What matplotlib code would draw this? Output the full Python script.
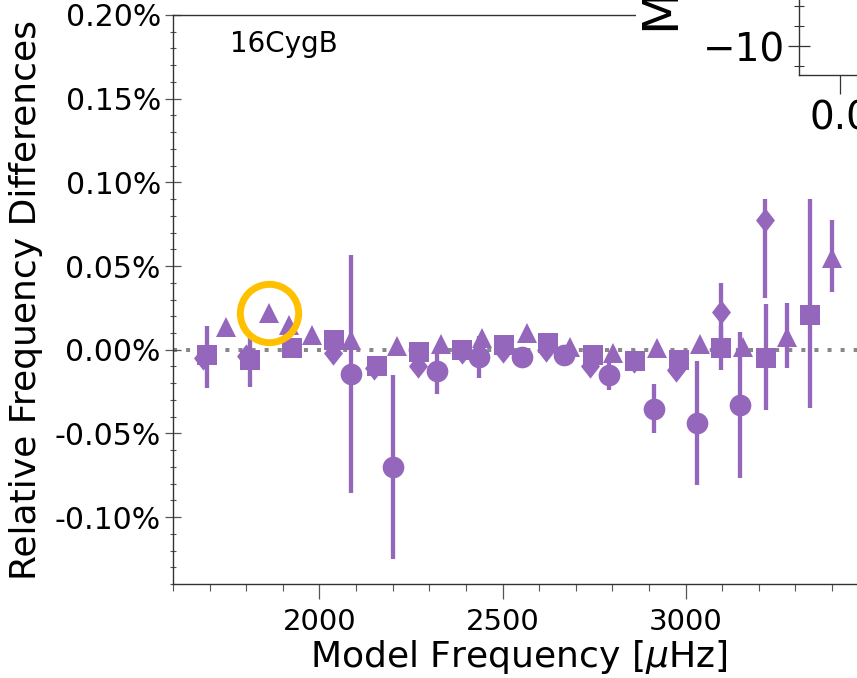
import matplotlib
matplotlib.use("Agg")
import matplotlib.pyplot as plt
from matplotlib.ticker import MultipleLocator, FuncFormatter
from matplotlib.patches import Rectangle

# ---------------- data (relative differences in %) ----------------
circ_x = [2085, 2202, 2320, 2437, 2552, 2669, 2792, 2913, 3030, 3148]
circ_y = [-0.0144, -0.070, -0.0126, -0.0042, -0.0042, -0.003, -0.015, -0.0353, -0.0437, -0.033]
circ_lo = [0.071, 0.055, 0.014, 0.0126, 0.004, 0.004, 0.009, 0.0147, 0.037, 0.0434]
circ_hi = [0.071, 0.055, 0.014, 0.0126, 0.004, 0.004, 0.009, 0.0147, 0.037, 0.0434]

tri_x = [1746, 1863, 1918, 1981, 2087, 2213, 2333, 2445, 2566, 2683, 2801, 2921, 3038, 3156, 3276, 3399]
tri_y = [0.0138, 0.0222, 0.015, 0.009, 0.006, 0.0024, 0.0036, 0.0072, 0.0102, 0.0018,
         -0.0018, 0.0012, 0.0036, 0.0018, 0.0078, 0.0545]
tri_lo = [0.003] * 14 + [0.019, 0.020]
tri_hi = [0.003] * 14 + [0.020, 0.023]

sq_x = [1694, 1811, 1926, 2041, 2156, 2273, 2388, 2505, 2623, 2746, 2861, 2981, 3098, 3219, 3339]
sq_y = [-0.003, -0.006, 0.0012, 0.006, -0.0096, -0.0012, 0.0, 0.003, 0.0042, -0.003,
        -0.0066, -0.006, 0.001, -0.0048, 0.021]
sq_lo = [0.020, 0.016, 0.003, 0.003, 0.003, 0.003, 0.003, 0.003, 0.003, 0.003, 0.003, 0.003, 0.013, 0.031, 0.056]
sq_hi = [0.017, 0.014, 0.003, 0.003, 0.003, 0.003, 0.003, 0.003, 0.003, 0.003, 0.003, 0.003, 0.013, 0.032, 0.069]

dia_x = [1683, 1800, 2036, 2150, 2268, 2388, 2500, 2620, 2738, 2858, 2975, 3098, 3216]
dia_y = [-0.0048, -0.0036, -0.0018, -0.0108, -0.0096, -0.0012, -0.0006, 0.0, -0.0096,
         -0.0066, -0.012, 0.0228, 0.0778]
dia_lo = [0.003] * 11 + [0.017, 0.047]
dia_hi = [0.003] * 11 + [0.017, 0.012]

star_label = "16CygB"
highlight_index = 1  # highlighted triangle

# ---------------- figure ----------------
W, H = 857, 678
fig = plt.figure(figsize=(W / 100, H / 100), dpi=100)
purple = "#9467bd"

ax = fig.add_axes([173 / W, 1 - 584 / H, (865 - 173) / W, (584 - 15) / H], zorder=0)
ax.set_xlim(1600, 3490)
ax.set_ylim(-0.14, 0.20)

ax.axhline(0, color="#888888", lw=2.9, ls=(0, (1, 2.25)), zorder=1)

diamond = [(0, 1), (0.78, 0), (0, -1), (-0.78, 0), (0, 1)]

ekw = dict(ls="none", color=purple, ecolor=purple, elinewidth=3.1, capsize=0, mec=purple, mew=0)
ax.errorbar(dia_x, dia_y, yerr=[dia_lo, dia_hi], marker=diamond, ms=17.5, zorder=2, **ekw)
ax.errorbar(circ_x, circ_y, yerr=[circ_lo, circ_hi], fmt="o", ms=15.6, zorder=3, **ekw)
ax.errorbar(tri_x, tri_y, yerr=[tri_lo, tri_hi], fmt="^", ms=15, zorder=4, **ekw)
ax.errorbar(sq_x, sq_y, yerr=[sq_lo, sq_hi], fmt="s", ms=15, zorder=5, **ekw)

ax.plot(tri_x[highlight_index], tri_y[highlight_index], "o", mfc="none", mec="#FFC000",
        ms=42, mew=5, zorder=6)

ax.text(0.082, 0.935, star_label, transform=ax.transAxes, fontsize=20, ha="left", va="baseline")

ax.xaxis.set_major_locator(MultipleLocator(500))
ax.xaxis.set_minor_locator(MultipleLocator(100))
ax.yaxis.set_major_locator(MultipleLocator(0.05))
ax.yaxis.set_minor_locator(MultipleLocator(0.01))


def pct(v, _):
    if abs(v) < 1e-9:
        v = 0.0
    return f"{v:.2f}%"


ax.yaxis.set_major_formatter(FuncFormatter(pct))
ax.tick_params(axis="y", which="major", direction="inout", length=11.5, width=0.9,
               color="#555555", labelsize=21.5, pad=3)
ax.tick_params(axis="y", which="minor", direction="inout", length=4.5, width=0.8, color="#555555")
ax.tick_params(axis="x", which="major", direction="out", length=11, width=0.9,
               color="#555555", labelsize=21, pad=6)
ax.tick_params(axis="x", which="minor", direction="out", length=5, width=0.8, color="#555555")
for s in ax.spines.values():
    s.set_color("#333333")
    s.set_linewidth(1.0)

ax.set_xlabel(r"Model Frequency [$\mu$Hz]", fontsize=26, labelpad=2)
ax.set_ylabel("Relative Frequency Differences", fontsize=26, labelpad=8)

# white cover behind the partly visible inset
fig.add_artist(Rectangle((636 / W, 1 - 140 / H), 1, 1, transform=fig.transFigure,
                         facecolor="white", edgecolor="none", zorder=0.5))

# partially visible inset
ins = fig.add_axes([799 / W, 1 - 75 / H, 0.3, 0.3], zorder=1)
ins.set_xlim(-0.08, 0.42)
ins.set_ylim(-11.45, -1.28)
ins.xaxis.set_major_locator(MultipleLocator(0.5))
ins.yaxis.set_major_locator(MultipleLocator(5))
ins.yaxis.set_minor_locator(MultipleLocator(1))
ins.tick_params(axis="y", which="major", direction="inout", length=16, width=0.9,
                color="#333333", labelsize=28, pad=2)
ins.tick_params(axis="y", which="minor", direction="inout", length=7, width=0.8, color="#333333")
ins.tick_params(axis="x", which="major", direction="out", length=14, width=0.9,
                color="#333333", labelsize=28, pad=4)
for s in ins.spines.values():
    s.set_color("#333333")
    s.set_linewidth(1.0)
fig.text(684 / W, 1 - 30 / H, "M", rotation=90, ha="right", va="bottom", fontsize=36, zorder=2)

fig.savefig("out.png", dpi=100)
